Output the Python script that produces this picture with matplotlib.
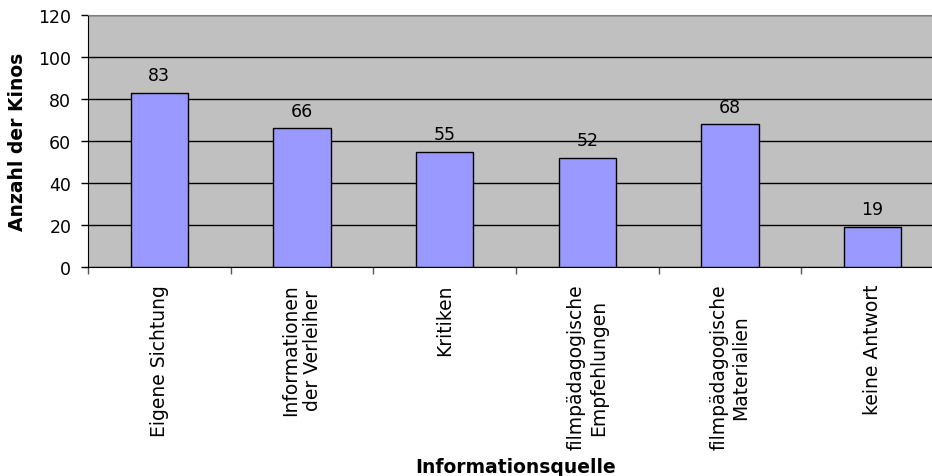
import numpy as np
import matplotlib.pyplot as plt

# Daten: Informationsquellen der Kinos
kategorien = ["Eigene Sichtung", "Informationen\nder Verleiher", "Kritiken",
              "filmpädagogische\nEmpfehlungen", "filmpädagogische\nMaterialien",
              "keine Antwort"]
anzahl = [83, 66, 55, 52, 68, 19]

plt.rcParams['font.family'] = 'DejaVu Sans'

fig = plt.figure(figsize=(9.32, 4.77), dpi=100)
# Plotbereich läuft rechts leicht über den Bildrand hinaus
ax = fig.add_axes([88 / 932, 1 - 268 / 477, 856 / 932, 252 / 477])

x = np.arange(len(kategorien))
ax.bar(x, anzahl, width=0.4, color='#9999FF', edgecolor='black', linewidth=1, zorder=3)

for xi, v in zip(x, anzahl):
    ax.text(xi, v + 8.4, str(v), ha='center', va='center', fontsize=12.5, zorder=4)

ax.set_facecolor('#C0C0C0')
ax.set_xlim(-0.5, len(kategorien) - 0.5)
ax.set_ylim(0, 120)
ax.set_yticks(np.arange(0, 121, 20))
ax.yaxis.grid(True, color='black', linewidth=1, zorder=1)
ax.tick_params(axis='y', labelsize=12.5, length=5, width=1, pad=7, direction='out')

# Striche an den Kategoriegrenzen, Beschriftung in der Mitte
ax.set_xticks(np.arange(-0.5, len(kategorien), 1.0))
ax.set_xticklabels([])
ax.tick_params(axis='x', which='major', length=5, width=1, direction='out', color='#555555')
ax.set_xticks(x, minor=True)
ax.set_xticklabels(kategorien, minor=True, rotation=90, fontsize=13.5,
                   ha='center', va='top', multialignment='center')
ax.tick_params(axis='x', which='minor', length=0, pad=12)

for side in ['top', 'right']:
    ax.spines[side].set_color('#808080')
ax.spines['left'].set_color('black')
ax.spines['bottom'].set_color('black')

ax.set_ylabel("Anzahl der Kinos", fontsize=13.5, fontweight='bold', labelpad=8)
fig.text(516 / 932, 1 - 468 / 477, "Informationsquelle", ha='center', va='center',
         fontsize=13.5, fontweight='bold')

fig.savefig("out.png", dpi=100)
